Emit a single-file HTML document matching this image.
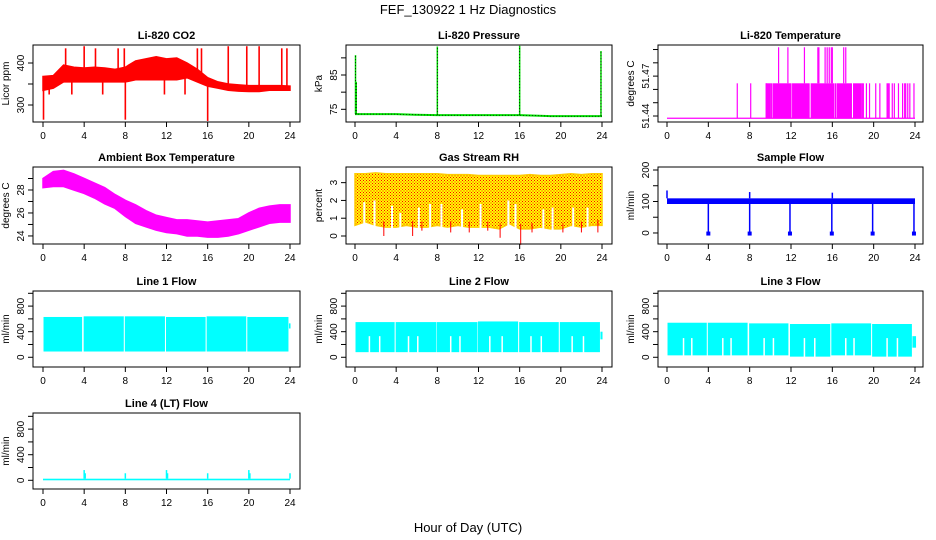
<!DOCTYPE html>
<html><head><meta charset="utf-8"><style>
html,body{margin:0;padding:0;background:#fff;}
svg{display:block;font-family:"Liberation Sans",Arial,sans-serif;}
</style></head><body>
<svg id="c" width="936" height="540" viewBox="0 0 936 540" xmlns="http://www.w3.org/2000/svg">
<defs>
<pattern id="rhpat" width="3" height="3" patternUnits="userSpaceOnUse">
<rect width="3" height="3" fill="#ffff00"/>
<rect x="0" y="0" width="1" height="1" fill="#ff0000"/>
<rect x="1.5" y="1.5" width="1" height="1" fill="#ff0000"/>
</pattern>
</defs>
<text x="468" y="14" text-anchor="middle" font-size="13">FEF_130922  1 Hz Diagnostics</text>
<text x="468" y="532" text-anchor="middle" font-size="13">Hour of Day (UTC)</text>
</svg>
<script>
const hours = [0,1,2,3,4,5,6,7,8,9,10,11,12,13,14,15,16,17,18,19,20,21,22,23,24];
const xTicks = [0,4,8,12,16,20,24];
// CO2
const co2Upper = [368,370,395,390,388,390,388,385,390,405,410,415,410,412,400,385,365,355,350,348,346,346,346,346,345];
const co2Lower = [335,340,355,355,355,355,355,355,355,360,360,360,360,360,365,355,345,340,335,333,332,332,335,335,335];
const co2SpikeT = [0.05,2.2,4.0,5.1,7.3,7.9,8.0,15.0,15.4,16.0,18.0,19.8,21.0,23.2,23.7,11.8,13.8,5.8,2.8,0.6];
const co2SpikeV = [265,435,440,435,435,435,265,435,435,262,440,440,440,435,435,325,325,325,325,325];
// Pressure
const presT = [0,0.1,4,5.8,8,8.2,12,16,19,24];
const presV = [73.6,73.6,73.6,73.4,73.3,73.3,73.3,73.3,73.0,73.0];
const presSpikeT = [0.05,0.12,8.0,16.0,23.9];
const presSpikeV = [90.8,83,93.3,93.5,92];
// Li-820 temperature
const tempBase = 51.4383, tempMid = 51.4646, tempHigh = 51.4917;
const tempBlockStart = [9.55,10.2,12.15,13.9,16.4,18.0];
const tempBlockEnd = [10.05,12.0,13.7,16.2,17.9,18.85];
const tempMidT = [6.8,8.1,9.6,10.1,12.1,13.75,16.3,18.9,19.0,19.3,19.6,20.2,20.6,21.3,21.4,21.5,21.8,22.0,22.4,22.8,23.0,23.1,23.3,23.5,23.9];
const tempHighT = [10.8,11.7,13.3,14.6,14.7,15.3,15.5,15.7,15.9,16.0,17.1,17.3];
// Ambient box temperature
const ambUpper = [29.0,29.6,29.7,29.4,29.0,28.6,28.2,27.6,27.1,26.7,26.2,25.8,25.6,25.4,25.4,25.3,25.2,25.3,25.4,25.5,26.0,26.4,26.6,26.7,26.7];
const ambLower = [28.2,28.3,28.3,28.0,27.7,27.3,26.8,26.4,25.7,25.1,24.8,24.5,24.3,24.2,24.0,24.0,23.9,23.9,24.0,24.2,24.5,24.8,25.1,25.2,25.2];
// Gas stream RH
const rhUpper = [3.5,3.5,3.55,3.5,3.5,3.5,3.5,3.5,3.5,3.45,3.45,3.45,3.4,3.4,3.4,3.4,3.4,3.45,3.4,3.4,3.45,3.5,3.45,3.5,3.5];
const rhLower = [0.6,0.8,0.6,0.5,0.5,0.6,0.5,0.5,0.6,0.5,0.6,0.5,0.5,0.5,0.4,0.7,0.4,0.4,0.5,0.4,0.4,0.6,0.5,0.6,0.6];
const rhDipT = [2.8,5.6,6.5,9.3,11.1,12.9,14.1,16.1,17.2,20.2,22.0,23.6];
const rhDipV = [0.0,0.0,0.3,0.2,0.2,0.3,-0.1,-0.5,0.2,0.2,0.2,0.2];
const rhGapT = [0.9,1.9,3.6,4.4,6.2,7.3,8.4,10.4,12.2,14.9,15.6,18.3,19.2,21.2,22.6];
const rhGapV = [1.9,2.0,1.7,1.3,1.6,1.8,1.8,1.5,1.8,2.0,1.8,1.5,1.6,1.6,1.6];
// Sample flow
const sfLo = 92, sfHi = 110;
const sfDropT = [4.0,8.0,11.9,15.95,19.9,23.9];
const sfDropV = [-5,-5,-5,-5,-5,-5];
const sfSpikeT = [0.0,8.0,16.0];
const sfSpikeV = [135,130,128];
// Line flows: segments
const l1Start = [0.05,3.95,7.95,11.95,15.9,19.85,23.9];
const l1End = [3.8,7.85,11.85,15.8,19.75,23.85,24.05];
const l1Lo = [90,90,90,90,90,90,450];
const l1Hi = [630,640,640,630,640,630,530];
const l1GapT = [];
const l1GapV = [];
const l2Start = [0.05,3.95,7.95,11.95,15.95,19.9,23.85];
const l2End = [3.85,7.9,11.9,15.85,19.8,23.8,24.05];
const l2Lo = [80,80,80,80,80,80,280];
const l2Hi = [550,550,550,560,550,550,400];
const l2GapT = [1.4,2.4,5.2,6.1,9.3,10.2,13.1,14.3,17.1,18.1,21.1,22.2];
const l2GapV = [330,330,330,330,330,330,330,330,330,330,330,330];
const l3Start = [0.05,3.95,7.95,11.9,15.9,19.85,23.75];
const l3End = [3.85,7.8,11.75,15.8,19.75,23.7,24.1];
const l3Lo = [30,30,30,10,30,10,150];
const l3Hi = [540,540,530,520,530,520,330];
const l3GapT = [1.6,2.4,5.4,6.2,9.4,10.3,13.3,14.3,17.3,18.1,21.3,22.3];
const l3GapV = [300,300,300,300,300,300,300,300,300,300,300,300];
const l4Lo = 0, l4Hi = 25;
const l4SpikeT = [4.0,4.1,8.0,12.0,12.1,16.0,20.0,20.1,24.0];
const l4SpikeV = [160,110,110,160,110,110,160,110,110];

const NS = "http://www.w3.org/2000/svg";
const svg = document.getElementById('c');
function mk(tag, name, parent){
  const el = document.createElementNS(NS, tag);
  
  
  (parent||svg).appendChild(el);
  return el;
}
function attrs(el, o){ for (const k in o) el.setAttribute(k, o[k]); return el; }

const cols = [{l:33,r:300,x0:43,x24:290},{l:346,r:612,x0:355,x24:602},{l:658,r:923,x0:667,x24:915}];
const rows = [{t:45,b:122},{t:167,b:244},{t:291,b:367},{t:413,b:489}];

function panel(col,row,title,ylab,dmin,dmax,ticks,labels,slug){
  const C=cols[col], R=rows[row];
  const g = mk('g', slug+'-panel');
  const p = {g, C, R,
    x: t => C.x0 + (C.x24-C.x0)*t/24,
    y: v => R.b - (R.b-R.t)*(v-dmin)/(dmax-dmin)};
  const tt = mk('text', slug+'-title', g);
  attrs(tt,{x:(C.l+C.r)/2, y:R.t-6, 'text-anchor':'middle','font-size':11,'font-weight':'bold'});
  tt.textContent = title;
  const yl = mk('text', slug+'-y-axis-title', g);
  attrs(yl,{x:0,y:0,'text-anchor':'middle','font-size':10,transform:`translate(${C.l-24},${(R.t+R.b)/2}) rotate(-90)`});
  yl.textContent = ylab;
  const gx = mk('g', slug+'-x-axis', g);
  for (const t of xTicks){
    const ln = mk('line', slug+'-x-tick', gx);
    attrs(ln,{x1:p.x(t),x2:p.x(t),y1:R.b,y2:R.b+5,stroke:'#000'});
    const tx = mk('text', slug+'-x-tick-label', gx);
    attrs(tx,{x:p.x(t),y:R.b+17,'text-anchor':'middle','font-size':10});
    tx.textContent = String(t);
  }
  const gy = mk('g', slug+'-y-axis', g);
  for (const v of ticks){
    const ln = mk('line', slug+'-y-tick', gy);
    attrs(ln,{x1:C.l-5,x2:C.l,y1:p.y(v),y2:p.y(v),stroke:'#000'});
  }
  for (const v of labels){
    const tx = mk('text', slug+'-y-tick-label', gy);
    attrs(tx,{x:0,y:0,'text-anchor':'middle','font-size':10,transform:`translate(${C.l-9},${p.y(v)}) rotate(-90)`});
    tx.textContent = String(v);
  }
  p.data = mk('g', slug+'-series', g);
  p.finish = () => {
    const bx = mk('rect', slug+'-plot-frame', g);
    attrs(bx,{x:C.l,y:R.t,width:C.r-C.l,height:R.b-R.t,fill:'none',stroke:'#000'});
  };
  return p;
}
function envelope(p, xs, up, lo, fill, name){
  let pts = xs.map((t,i)=>p.x(t)+','+p.y(up[i]));
  for (let i=xs.length-1;i>=0;i--) pts.push(p.x(xs[i])+','+p.y(lo[i]));
  const pg = mk('polygon', name, p.data);
  attrs(pg,{points:pts.join(' '),fill:fill,stroke:fill==='url(#rhpat)'?'#ffcc00':fill,'stroke-width':1.5});
}
function vline(p, t, v1, v2, color, w, name){
  const ln = mk('line', name, p.data);
  attrs(ln,{x1:p.x(t),x2:p.x(t),y1:p.y(v1),y2:p.y(v2),stroke:color,'stroke-width':w});
  return ln;
}
function interp(xs, ys, t){
  for (let i=0;i<xs.length-1;i++) if (t>=xs[i]&&t<=xs[i+1]) return ys[i]+(ys[i+1]-ys[i])*(t-xs[i])/(xs[i+1]-xs[i]);
  return ys[ys.length-1];
}

// 1 CO2
let p = panel(0,0,'Li-820 CO2','Licor ppm',259.5,442.9,[300,350,400],[300,400],'co2');
envelope(p,hours,co2Upper,co2Lower,'#ff0000','co2-band');
co2SpikeT.forEach((t,i)=>{ const m=(interp(hours,co2Upper,t)+interp(hours,co2Lower,t))/2; vline(p,t,m,co2SpikeV[i],'#ff0000',1.6,'co2-spike'); });
p.finish();

// 2 Pressure
p = panel(1,0,'Li-820 Pressure','kPa',71.3,93.75,[75,80,85,90],[75,85],'pressure');
{ const pl = mk('polyline','pressure-line',p.data);
  attrs(pl,{points:presT.map((t,i)=>p.x(t)+','+p.y(presV[i])).join(' '),fill:'none',stroke:'#00dd00','stroke-width':2});
  const pd = mk('polyline','pressure-line-dots',p.data);
  attrs(pd,{points:presT.map((t,i)=>p.x(t)+','+p.y(presV[i])).join(' '),fill:'none',stroke:'#000','stroke-width':0.6,'stroke-dasharray':'1 2'}); }
presSpikeT.forEach((t,i)=>{ const b=interp(presT,presV,t); vline(p,t,b,presSpikeV[i],'#00dd00',1.5,'pressure-spike'); const d=vline(p,t,b,presSpikeV[i],'#000',0.8,'pressure-spike-dots'); d.setAttribute('stroke-dasharray','1 2'); });
p.finish();

// 3 Li-820 temperature
p = panel(2,0,'Li-820 Temperature','degrees C',51.4355,51.4934,[51.44,51.45,51.46,51.47,51.48,51.49],[51.44,51.47],'li820-temp');
{ const bl = mk('line','li820-temp-base',p.data);
  attrs(bl,{x1:p.x(0),x2:p.x(24),y1:p.y(tempBase),y2:p.y(tempBase),stroke:'#ff00ff','stroke-width':1.2}); }
tempBlockStart.forEach((s,i)=>{ const r=mk('rect','li820-temp-block',p.data);
  attrs(r,{x:p.x(s),y:p.y(tempMid),width:p.x(tempBlockEnd[i])-p.x(s),height:p.y(tempBase)-p.y(tempMid),fill:'#ff00ff'}); });
tempMidT.forEach(t=>vline(p,t,tempBase,tempMid,'#ff00ff',1.2,'li820-temp-mid-spike'));
tempHighT.forEach(t=>vline(p,t,tempMid,tempHigh,'#ff00ff',1.2,'li820-temp-high-spike'));
p.finish();

// 4 Ambient
p = panel(0,1,'Ambient Box Temperature','degrees C',23.3,30.0,[24,25,26,27,28,29],[24,26,28],'ambient-temp');
envelope(p,hours,ambUpper,ambLower,'#ff00ff','ambient-band');
p.finish();

// 5 RH
p = panel(1,1,'Gas Stream RH','percent',-0.45,3.88,[0,1,2,3],[0,1,2,3],'rh');
envelope(p,hours,rhUpper,rhLower,'url(#rhpat)','rh-band');
rhGapT.forEach((t,i)=>vline(p,t,interp(hours,rhLower,t)-0.3,rhGapV[i],'#ffffff',2,'rh-gap'));
rhDipT.forEach((t,i)=>vline(p,t,interp(hours,rhLower,t)+0.3,rhDipV[i],'#ff0000',1,'rh-dip'));
p.finish();

// 6 Sample flow
p = panel(2,1,'Sample Flow','ml/min',-35,209.5,[0,50,100,150,200],[0,100,200],'sample-flow');
{ const r=mk('rect','sample-flow-band',p.data);
  attrs(r,{x:p.x(0),y:p.y(sfHi),width:p.x(24)-p.x(0),height:p.y(sfLo)-p.y(sfHi),fill:'#0000ff'}); }
sfDropT.forEach((t,i)=>{ vline(p,t,sfLo,sfDropV[i],'#0000ff',1.5,'sample-flow-drop'); const d=mk('rect','sample-flow-drop-cap',p.data); attrs(d,{x:p.x(t)-2,y:p.y(sfDropV[i])-3,width:4,height:4,fill:'#0000ff'}); });
sfSpikeT.forEach((t,i)=>vline(p,t,sfHi,sfSpikeV[i],'#0000ff',1.5,'sample-flow-spike'));
p.finish();

function flowPanel(col,row,title,slug,st,en,lo,hi,gt,gv,dmin,dmax){
  const q = panel(col,row,title,'ml/min',dmin,dmax,[0,200,400,600,800,1000],[0,400,800],slug);
  st.forEach((s,i)=>{ const r=mk('rect',slug+'-segment',q.data);
    attrs(r,{x:q.x(s),y:q.y(hi[i]),width:q.x(en[i])-q.x(s),height:q.y(lo[i])-q.y(hi[i]),fill:'#00ffff'}); });
  gt.forEach((t,i)=>vline(q,t,0,gv[i],'#ffffff',1.5,slug+'-gap'));
  return q;
}
p = flowPanel(0,2,'Line 1 Flow','line1-flow',l1Start,l1End,l1Lo,l1Hi,l1GapT,l1GapV,-152,1036); p.finish();
p = flowPanel(1,2,'Line 2 Flow','line2-flow',l2Start,l2End,l2Lo,l2Hi,l2GapT,l2GapV,-152,1036); p.finish();
p = flowPanel(2,2,'Line 3 Flow','line3-flow',l3Start,l3End,l3Lo,l3Hi,l3GapT,l3GapV,-152,1036); p.finish();

p = panel(0,3,'Line 4 (LT) Flow','ml/min',-136,1052,[0,200,400,600,800,1000],[0,400,800],'line4-flow');
{ const r=mk('rect','line4-flow-band',p.data);
  attrs(r,{x:p.x(0),y:p.y(l4Hi),width:p.x(24)-p.x(0),height:p.y(l4Lo)-p.y(l4Hi),fill:'#00ffff'}); }
l4SpikeT.forEach((t,i)=>vline(p,t,l4Hi,l4SpikeV[i],'#00ffff',1.5,'line4-flow-spike'));
p.finish();
</script>
</body></html>
